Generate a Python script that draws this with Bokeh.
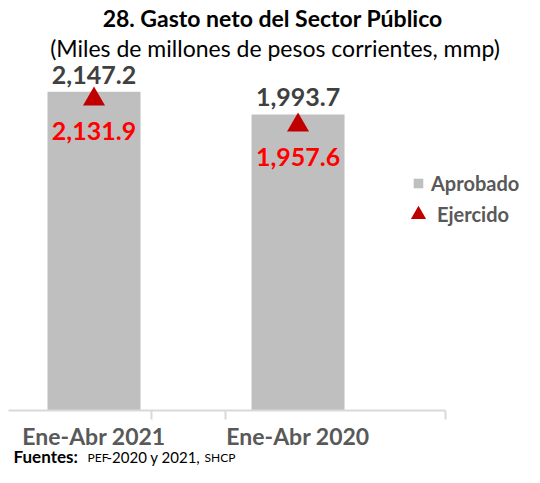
from bokeh.plotting import figure
from bokeh.models import (Range1d, FixedTicker, Label, Legend, LegendItem,
                          ColumnDataSource)
from bokeh.core.properties import value
from bokeh.embed import file_html
from bokeh.resources import INLINE

# ---- data ----
categories = ["Ene-Abr 2021", "Ene-Abr 2020"]
aprobado = [2147.2, 1993.7]
ejercido = [2131.9, 1957.6]
title_text = "28. Gasto  neto del Sector Público"
subtitle_text = "(Miles de millones de pesos corrientes, mmp)"

FONT = value("Lato")
GRAY_TXT = "#595959"

idx = list(range(len(categories)))
src = ColumnDataSource(dict(
    x=idx, cat=categories, aprobado=aprobado, ejercido=ejercido,
    ap_lbl=[f"{v:,.1f}" for v in aprobado],
    ej_lbl=[f"{v:,.1f}" for v in ejercido],
))

p = figure(width=524, height=467, output_backend="svg", toolbar_location=None,
           x_range=Range1d(-0.4583, 2.110), y_range=Range1d(-383.8, 2761),
           y_axis_location=None, min_border_left=0, min_border_right=0,
           min_border_top=0, min_border_bottom=0)
# markers drawn on a secondary value axis (as in the original combo chart)
p.extra_y_ranges = {"sec": Range1d(-337.2, 2793.4)}
p.grid.visible = False
p.outline_line_color = None
p.background_fill_color = "white"
p.border_fill_color = "white"

bars = p.vbar(x="x", top="aprobado", width=0.456, source=src,
              fill_color="#bfbfbf", line_color=None)
tri = p.scatter(x="x", y="ejercido", source=src, marker="triangle", size=22,
                fill_color="#c00000", line_color=None, y_range_name="sec")

p.text(x="x", y="aprobado", text="ap_lbl", source=src, text_font=FONT,
       text_font_style="bold", text_font_size="25px", text_color="#404040",
       text_align="center", text_baseline="middle", y_offset=-17)
p.text(x="x", y="ejercido", text="ej_lbl", source=src, text_font=FONT,
       text_font_style="bold", text_font_size="25px", text_color="#ff0000",
       text_align="center", text_baseline="middle", y_offset=32,
       y_range_name="sec")

# x axis, pinned at value 0 inside the frame
ax = p.xaxis[0]
ax.fixed_location = 0
ax.ticker = FixedTicker(ticks=idx, minor_ticks=[0.282, 0.645, 1.723])
ax.major_label_overrides = {i: c for i, c in zip(idx, categories)}
ax.bounds = (-0.419, 1.723)
ax.axis_line_color = "#d9d9d9"
ax.axis_line_width = 2
ax.major_tick_out = 0
ax.major_tick_in = 0
ax.minor_tick_out = 9
ax.minor_tick_in = 0
ax.minor_tick_line_color = "#d9d9d9"
ax.minor_tick_line_width = 2
ax.major_label_standoff = 2
ax.major_label_text_font = "Lato"
ax.major_label_text_font_style = "bold"
ax.major_label_text_font_size = "23px"
ax.major_label_text_color = GRAY_TXT

# titles
p.add_layout(Label(x=275, y=450, x_units="screen", y_units="screen",
                   text=title_text, text_font="Lato", text_font_style="bold",
                   text_font_size="23px", text_align="center",
                   text_baseline="middle", text_color="black"))
p.add_layout(Label(x=274.5, y=420, x_units="screen", y_units="screen",
                   text=subtitle_text, text_font="Lato",
                   text_font_size="23px", text_align="center",
                   text_baseline="middle", text_color="black"))

# legends
for lg_items, gw, loc, stand in (
        ([LegendItem(label="Aprobado", renderers=[bars])], 12, (412, 269), 7),
        ([LegendItem(label="Ejercido", renderers=[tri])], 38, (399, 234), -6)):
    lg = Legend(items=lg_items, location=loc, glyph_width=gw, glyph_height=gw,
                label_height=30, label_standoff=stand, padding=0, margin=0,
                border_line_color=None, background_fill_alpha=0,
                label_text_font="Lato", label_text_font_style="bold",
                label_text_font_size="20px", label_text_color=GRAY_TXT)
    p.add_layout(lg)

# source note
for txt, x, y, size, style in (("Fuentes:", 13, 11, "17px", "bold"),
                               ("PEF", 87, 10, "12px", "normal"),
                               ("-2020 y 2021,", 106, 11, "15px", "normal"),
                               ("SHCP", 204, 10, "12px", "normal")):
    p.add_layout(Label(x=x, y=y, x_units="screen", y_units="screen",
                       text=txt, text_font="Lato", text_font_style=style,
                       text_font_size=size, text_baseline="middle",
                       text_color="black"))

open("out.html", "w").write(file_html(p, INLINE))
